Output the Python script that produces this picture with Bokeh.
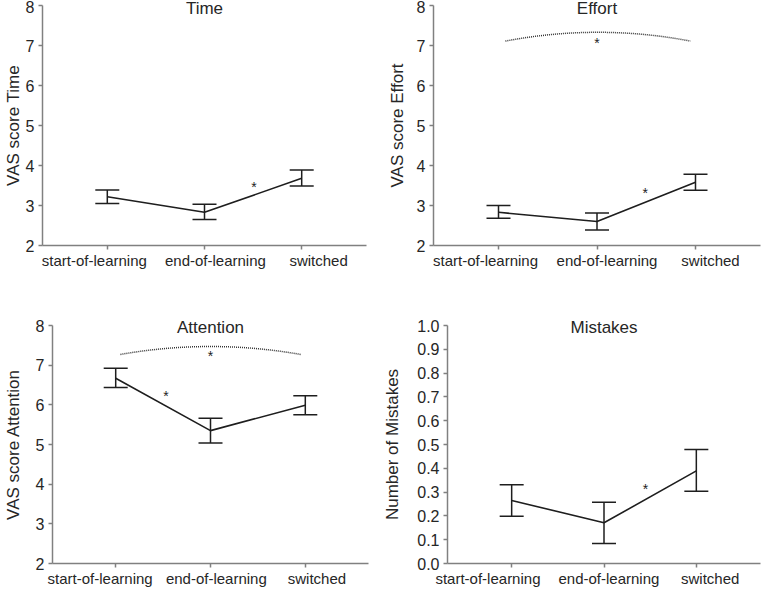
from bokeh.plotting import figure
from bokeh.models import (Range1d, FixedTicker, Whisker, TeeHead, ColumnDataSource,
                          LinearAxis, Title, PrintfTickFormatter)
from bokeh.layouts import column, row
from bokeh.core.properties import value
from bokeh.embed import file_html
from bokeh.resources import INLINE

# ---------------- data ----------------
categories = ["start-of-learning", "end-of-learning", "switched"]
positions = [1, 2, 3]

time_mean = [3.22, 2.83, 3.68]
time_lo = [3.05, 2.65, 3.49]
time_hi = [3.39, 3.03, 3.89]

effort_mean = [2.83, 2.60, 3.58]
effort_lo = [2.68, 2.39, 3.38]
effort_hi = [3.00, 2.81, 3.78]

attention_mean = [6.67, 5.35, 5.99]
attention_lo = [6.44, 5.04, 5.75]
attention_hi = [6.92, 5.66, 6.23]

mistakes_mean = [0.265, 0.171, 0.389]
mistakes_lo = [0.199, 0.084, 0.304]
mistakes_hi = [0.331, 0.257, 0.479]

vas_ticks = [2, 3, 4, 5, 6, 7, 8]
mistakes_ticks = [0.0, 0.1, 0.2, 0.3, 0.4, 0.5, 0.6, 0.7, 0.8, 0.9, 1.0]

# significance marks (x, y)
time_stars_x = [2.51]
time_stars_y = [3.55]
effort_stars_x = [2.49, 2.0]
effort_stars_y = [3.40, 7.14]
attention_stars_x = [1.53, 2.0]
attention_stars_y = [6.30, 7.30]
mistakes_stars_x = [2.45]
mistakes_stars_y = [0.326]

# dotted brackets: (x0, x1, y_end, y_peak)
effort_bracket = [1.07, 2.95, 7.11, 7.33]
attention_bracket = [1.05, 2.95, 7.27, 7.47]

# ---------------- style ----------------
FONT = "Liberation Sans"
TXT = "#262626"
AX = "#808080"
LN = "#1e1e1e"


def panel(title, ylabel, mean, lo, hi, ticks, yr, xr, w, h, borders,
          lab_offsets, stars_x, stars_y, bracket, title_standoff, standoff, fmt=None):
    bl, br, bt, bb = borders
    p = figure(width=w, height=h, x_range=Range1d(*xr), y_range=Range1d(*yr),
               output_backend="svg", toolbar_location=None, title=None,
               min_border_left=bl, min_border_right=br, min_border_top=bt,
               min_border_bottom=bb, outline_line_color=None,
               background_fill_color="white", border_fill_color="white")
    p.xgrid.visible = False
    p.ygrid.visible = False

    # main x axis: line + tick marks only
    p.xaxis.ticker = FixedTicker(ticks=positions)
    p.xaxis.major_label_overrides = {pp: "" for pp in positions}
    p.xaxis.major_label_text_font_size = "0px"
    p.xaxis.major_label_standoff = 0
    p.yaxis.ticker = FixedTicker(ticks=ticks)
    if fmt:
        p.yaxis.formatter = PrintfTickFormatter(format=fmt)
    for ax in (p.xaxis, p.yaxis):
        ax.axis_line_color = AX
        ax.axis_line_width = 1.5
        ax.major_tick_line_color = AX
        ax.major_tick_line_width = 1.5
        ax.major_tick_out = 4
        ax.major_tick_in = 0
        ax.minor_tick_line_color = None
    p.yaxis.major_label_text_font = FONT
    p.yaxis.major_label_text_font_size = "16px"
    p.yaxis.major_label_text_color = TXT
    p.yaxis.major_label_standoff = 4
    p.yaxis.axis_label = ylabel
    p.yaxis.axis_label_text_font = FONT
    p.yaxis.axis_label_text_font_size = "17px"
    p.yaxis.axis_label_text_font_style = "normal"
    p.yaxis.axis_label_text_color = TXT
    p.yaxis.axis_label_standoff = standoff

    # category labels (slightly offset from the tick marks, as in the original)
    frame_w = w - bl - br
    ppu = frame_w / (xr[1] - xr[0])
    lab_x = [pp + off / ppu for pp, off in zip(positions, lab_offsets)]
    lab_axis = LinearAxis(ticker=FixedTicker(ticks=lab_x),
                          major_label_overrides={lx: c for lx, c in zip(lab_x, categories)},
                          axis_line_color=None, major_tick_line_color=None,
                          minor_tick_line_color=None, major_tick_out=0, major_tick_in=0,
                          major_label_standoff=2, major_label_text_font=FONT,
                          major_label_text_font_size="15px", major_label_text_color=TXT)
    p.add_layout(lab_axis, "below")

    # title inside the top of the frame
    p.add_layout(Title(text=title, align="center", text_font=FONT,
                       text_font_size="17px", text_font_style="normal",
                       text_color=TXT, standoff=title_standoff), "above")

    src = ColumnDataSource(dict(x=positions, m=mean, lo=lo, hi=hi))
    p.add_layout(Whisker(source=src, base="x", lower="lo", upper="hi",
                         line_color=LN, line_width=1.5,
                         upper_head=TeeHead(size=24, line_color=LN, line_width=1.5),
                         lower_head=TeeHead(size=24, line_color=LN, line_width=1.5)))
    p.line("x", "m", source=src, line_color=LN, line_width=1.6)

    if bracket:
        x0, x1, ye, yp = bracket
        p.quadratic(x0=[x0], y0=[ye], x1=[x1], y1=[ye], cx=[(x0 + x1) / 2],
                    cy=[ye + 2 * (yp - ye)], line_color="#333333",
                    line_width=1.5, line_dash="1 1")

    p.text(x=stars_x, y=stars_y, text=["*"] * len(stars_x), text_font=value(FONT),
           text_font_size="14px", text_color=LN, text_align="center",
           text_baseline="middle", y_offset=3)
    return p


p1 = panel("Time", "VAS score Time", time_mean, time_lo, time_hi, vas_ticks,
           (2, 8), (1 / 3, 11 / 3), 380, 290, (40, 14, 5, 45),
           [-13, 11, 17], time_stars_x, time_stars_y, None, -25, 0)
p2 = panel("Effort", "VAS score Effort", effort_mean, effort_lo, effort_hi, vas_ticks,
           (2, 8), (0.34, 3.66), 381, 290, (53, 1, 5, 45),
           [-13, 10, 15], effort_stars_x, effort_stars_y, effort_bracket, -25, 7)
p3 = panel("Attention", "VAS score Attention", attention_mean, attention_lo, attention_hi,
           vas_ticks, (2, 8), (1 / 3, 11 / 3), 380, 299, (43, 12, 35, 25),
           [-16, 6, 12], attention_stars_x, attention_stars_y, attention_bracket, -22, 10)
p4 = panel("Mistakes", "Number of Mistakes", mistakes_mean, mistakes_lo, mistakes_hi,
           mistakes_ticks, (0, 1), (0.305, 3.695), 381, 299, (63, 1, 32, 25),
           [-24, 5, 14], mistakes_stars_x, mistakes_stars_y, None, -23, 12, "%.1f")

layout = column(row(p1, p2, spacing=0), row(p3, p4, spacing=0), spacing=0)
open("out.html", "w").write(file_html(layout, INLINE))
